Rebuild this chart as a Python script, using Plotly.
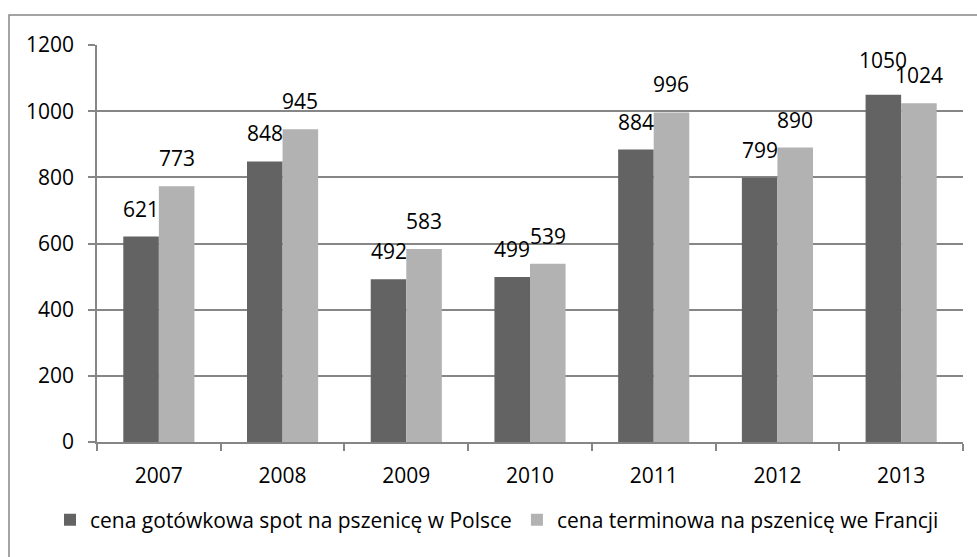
import plotly.graph_objects as go

years = ["2007", "2008", "2009", "2010", "2011", "2012", "2013"]
poland_spot = [621, 848, 492, 499, 884, 799, 1050]
france_futures = [773, 945, 583, 539, 996, 890, 1024]
series_names = ["cena gotówkowa spot na pszenicę w Polsce",
                "cena terminowa na pszenicę we Francji"]
y_ticks = [0, 200, 400, 600, 800, 1000, 1200]

FONT = "Open Sans"
FS = 21
GRID = "#868686"

W, H = 977, 557
L, R, T, B = 97, 14, 45, 115
pw, ph = W - L - R, H - T - B
BARGAP = 0.425
bar_px = pw / len(years) * (1 - BARGAP) / 2


def px_x(x):
    return (x - L) / pw


def px_y(y):
    return (H - B - y) / ph


fig = go.Figure()
fig.add_trace(go.Bar(
    x=years, y=poland_spot, name=series_names[0],
    marker=dict(color="#636363", line=dict(width=0)),
))
fig.add_trace(go.Bar(
    x=years, y=france_futures, name=series_names[1],
    marker=dict(color="#b2b2b2", line=dict(width=0)),
))

annotations = []
for series, side in ((poland_spot, -1), (france_futures, 1)):
    for i, v in enumerate(series):
        lift = 12
        if side == -1 and v == max(poland_spot) and v > 1000:
            lift = 19
        annotations.append(dict(
            x=i, y=v, xref="x", yref="y", text=str(v), showarrow=False,
            xanchor="center", yanchor="bottom",
            xshift=side * bar_px / 2, yshift=lift,
            font=dict(family=FONT, size=FS, color="#000000"),
        ))

fig.update_layout(
    width=W, height=H,
    margin=dict(l=L, r=R, t=T, b=B, pad=0, autoexpand=False),
    paper_bgcolor="white", plot_bgcolor="white",
    barmode="group", bargap=BARGAP, bargroupgap=0,
    font=dict(family=FONT, size=FS, color="#000000"),
    showlegend=True,
    legend=dict(
        orientation="h", xref="paper", yref="paper",
        x=px_x(50), xanchor="left",
        y=px_y(520), yanchor="middle",
        font=dict(family=FONT, size=FS, color="#000000"),
        itemsizing="constant", tracegroupgap=0, itemwidth=30,
        bgcolor="rgba(0,0,0,0)",
    ),
    annotations=annotations,
    shapes=[dict(
        type="rect", xref="paper", yref="paper",
        x0=px_x(9), x1=px_x(990), y0=px_y(575), y1=px_y(15),
        line=dict(color=GRID, width=1.5), fillcolor="rgba(0,0,0,0)",
        layer="below",
    )],
)

fig.update_xaxes(
    type="category", range=[-0.5, len(years) - 0.5],
    showline=True, linecolor=GRID, linewidth=1.5,
    ticks="outside", tickson="boundaries", ticklen=7, tickcolor=GRID,
    tickwidth=1.5, showgrid=False, ticklabelstandoff=14, automargin=False,
    tickfont=dict(family=FONT, size=FS, color="#000000"),
)
fig.update_yaxes(
    range=[0, 1200], tickvals=y_ticks, ticktext=[str(v) for v in y_ticks],
    showline=True, linecolor=GRID, linewidth=1.5,
    ticks="outside", ticklen=7, tickcolor=GRID, tickwidth=1.5,
    showgrid=True, gridcolor=GRID, gridwidth=1.5, zeroline=False,
    ticklabelstandoff=10, automargin=False,
    tickfont=dict(family=FONT, size=FS, color="#000000"),
)

fig.write_html(
    "out.html",
    config={"displayModeBar": False},
    post_script="document.body.style.margin='0';document.body.style.overflow='hidden';",
)
